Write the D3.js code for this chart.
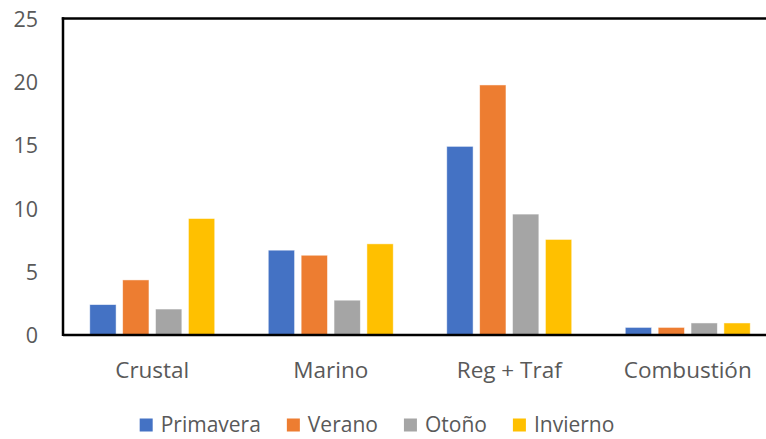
<!DOCTYPE html>
<html>
<head>
<meta charset="utf-8">
<script src="https://cdn.jsdelivr.net/npm/d3@7/dist/d3.min.js"></script>
<style>
  html, body { margin: 0; padding: 0; background: #fff; }
  svg { display: block; }
  text { font-family: "Open Sans", sans-serif; fill: #595959; }
</style>
</head>
<body>
<svg id="chart" width="766" height="439"></svg>
<script>
const categories = ["Crustal", "Marino", "Reg + Traf", "Combustión"];
const seriesNames = ["Primavera", "Verano", "Otoño", "Invierno"];
const primavera = [2.4, 6.7, 14.9, 0.6];
const verano = [4.35, 6.3, 19.75, 0.6];
const otono = [2.05, 2.75, 9.55, 0.95];
const invierno = [9.2, 7.2, 7.55, 0.95];
const yTicks = [0, 5, 10, 15, 20, 25];
const colors = ["#4472C4", "#ED7D31", "#A5A5A5", "#FFC000"];

const seriesValues = [primavera, verano, otono, invierno];
const data = categories.map((c, i) => ({
  category: c,
  values: seriesNames.map((s, j) => ({ series: s, value: seriesValues[j][i], color: colors[j] }))
}));

const svg = d3.select("#chart");
const mLeft = 63, mTop = 18.5, mBottom = 335, mRight = 777;

const x0 = d3.scaleBand().domain(categories).range([mLeft, mRight]).paddingInner(0.3).paddingOuter(0.15);
const x1 = d3.scaleBand().domain(seriesNames).range([0, x0.bandwidth()]).paddingInner(0.2).paddingOuter(0);
const y = d3.scaleLinear().domain([0, 25]).range([mBottom, mTop]);

// bars
const groups = svg.append("g").selectAll("g").data(data).join("g")
  .attr("transform", d => `translate(${x0(d.category)},0)`);
groups.selectAll("rect").data(d => d.values).join("rect")
  .attr("x", d => x1(d.series))
  .attr("width", x1.bandwidth())
  .attr("y", d => y(d.value))
  .attr("height", d => y(0) - y(d.value))
  .attr("fill", d => d.color)
  .attr("stroke", "#ffffff")
  .attr("stroke-opacity", 0.6)
  .attr("stroke-width", 0.8);

// frame: left + top
svg.append("line").attr("x1", mLeft).attr("x2", mLeft).attr("y1", mTop - 1.2).attr("y2", mBottom + 1)
  .attr("stroke", "#000").attr("stroke-width", 2.5);
svg.append("line").attr("x1", mLeft - 1.2).attr("x2", 766).attr("y1", mTop).attr("y2", mTop)
  .attr("stroke", "#000").attr("stroke-width", 2.5);

// x axis
const xAxis = d3.axisBottom(x0).tickSize(0).tickPadding(0);
const gx = svg.append("g").attr("transform", `translate(0,${mBottom})`).call(xAxis);
gx.select(".domain").remove();
svg.append("line").attr("x1", mLeft).attr("x2", 766).attr("y1", mBottom).attr("y2", mBottom)
  .attr("stroke", "#000").attr("stroke-width", 2.5);
gx.selectAll("text")
  .attr("y", 43).attr("dy", null)
  .style("font-size", "22.5px")
  .style("font-family", "'Open Sans', sans-serif")
  .attr("fill", "#595959");

// y axis
const yAxis = d3.axisLeft(y).tickValues(yTicks).tickSize(0).tickPadding(0).tickFormat(d3.format("d"));
const gy = svg.append("g").attr("transform", `translate(38,0)`).call(yAxis);
gy.select(".domain").remove();
gy.selectAll("text")
  .attr("x", 0).attr("dy", "0.36em")
  .style("font-size", "21.5px")
  .style("font-family", "'Open Sans', sans-serif")
  .attr("fill", "#595959");

// legend
const legend = svg.append("g");
const items = legend.selectAll("g").data(seriesNames).join("g");
items.append("rect").attr("width", 13).attr("height", 13).attr("y", 418.5)
  .attr("fill", (d, i) => colors[i]);
items.append("text").text(d => d).attr("x", 21).attr("y", 432)
  .style("font-size", "21px");
const widths = [];
items.each(function () {
  const w = 21 + this.querySelector("text").getComputedTextLength();
  widths.push(w);
});
const total = d3.sum(widths) + 26 * (widths.length - 1);
let start = 377 - total / 2;
items.attr("transform", (d, i) => {
  const t = `translate(${start},0)`;
  start += widths[i] + 26;
  return t;
});
</script>
</body>
</html>
